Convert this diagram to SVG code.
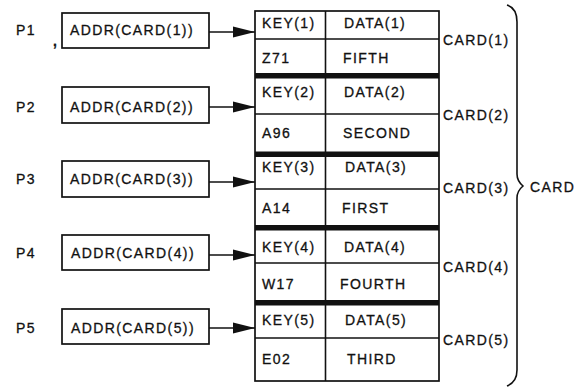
<svg xmlns="http://www.w3.org/2000/svg" width="585" height="387" viewBox="0 0 585 387">
<style>
text{font-family:"Liberation Sans",Arial,sans-serif;font-size:14px;letter-spacing:1.4px;fill:#111;stroke:#111;stroke-width:0.3}
.box{fill:#fff;stroke:#111;stroke-width:1.7}
.ln{stroke:#111;stroke-width:1.6;fill:none}
.bar{fill:#111}
.conn{stroke:#111;stroke-width:1.6;fill:none;marker-end:url(#ah)}
</style>
<defs>
<marker id="ah" markerUnits="userSpaceOnUse" markerWidth="23" markerHeight="12" refX="22" refY="6" orient="auto">
<path d="M0,0.5 L22,6 L0,11.5 Z" fill="#111"/>
</marker>
</defs>
<rect width="585" height="387" fill="#fff"/>

<g id="pointers">
<g id="p1"><text x="16" y="35">P1</text><text x="53" y="46" style="font-weight:bold">,</text><rect class="box" x="62" y="13" width="147" height="35"/><text x="70" y="35">ADDR(CARD(1))</text></g>
<g id="p2"><text x="16" y="112">P2</text><rect class="box" x="62" y="87" width="147" height="36"/><text x="70" y="112">ADDR(CARD(2))</text></g>
<g id="p3"><text x="16" y="184">P3</text><rect class="box" x="62" y="161" width="147" height="36"/><text x="70" y="184">ADDR(CARD(3))</text></g>
<g id="p4"><text x="16" y="258">P4</text><rect class="box" x="62" y="235" width="147" height="35"/><text x="71" y="258">ADDR(CARD(4))</text></g>
<g id="p5"><text x="16" y="333">P5</text><rect class="box" x="62" y="309" width="147" height="35"/><text x="71" y="333">ADDR(CARD(5))</text></g>
</g>

<g id="connectors">
<line class="conn" x1="209" y1="32" x2="255" y2="32"/>
<line class="conn" x1="209" y1="107" x2="255" y2="107"/>
<line class="conn" x1="209" y1="182" x2="255" y2="182"/>
<line class="conn" x1="209" y1="255" x2="255" y2="255"/>
<line class="conn" x1="209" y1="328" x2="255" y2="328"/>
</g>

<g id="table">
<rect class="box" x="255" y="11" width="184" height="370"/>
<line class="ln" x1="325.5" y1="11" x2="325.5" y2="381"/>
<line class="ln" x1="255" y1="39" x2="439" y2="39"/>
<line class="ln" x1="255" y1="114" x2="439" y2="114"/>
<line class="ln" x1="255" y1="189" x2="439" y2="189"/>
<line class="ln" x1="255" y1="263" x2="439" y2="263"/>
<line class="ln" x1="255" y1="338" x2="439" y2="338"/>
<rect class="bar" x="255" y="73" width="184" height="5.5"/>
<rect class="bar" x="255" y="151.5" width="184" height="5.5"/>
<rect class="bar" x="255" y="225" width="184" height="5.5"/>
<rect class="bar" x="255" y="300" width="184" height="5.5"/>
</g>

<g id="card1">
<text x="262" y="28">KEY(1)</text><text x="344" y="28">DATA(1)</text>
<text x="262" y="63">Z71</text><text x="343" y="63">FIFTH</text>
<text x="443" y="45">CARD(1)</text>
</g>
<g id="card2">
<text x="262" y="97">KEY(2)</text><text x="344" y="97">DATA(2)</text>
<text x="262" y="138">A96</text><text x="343" y="138">SECOND</text>
<text x="443" y="120">CARD(2)</text>
</g>
<g id="card3">
<text x="262" y="172">KEY(3)</text><text x="345" y="172">DATA(3)</text>
<text x="262" y="213">A14</text><text x="342" y="213">FIRST</text>
<text x="443" y="193">CARD(3)</text>
</g>
<g id="card4">
<text x="262" y="252">KEY(4)</text><text x="344" y="252">DATA(4)</text>
<text x="262" y="289">W17</text><text x="340" y="289">FOURTH</text>
<text x="443" y="272">CARD(4)</text>
</g>
<g id="card5">
<text x="262" y="325">KEY(5)</text><text x="345" y="325">DATA(5)</text>
<text x="262" y="364">E02</text><text x="347" y="364">THIRD</text>
<text x="443" y="345">CARD(5)</text>
</g>

<g id="card">
<path class="ln" d="M507,5 Q517,8 517,22 L517,174 Q517,181 523,186 Q517,191 517,198 L517,370 Q517,382 507,386"/>
<text x="530" y="192">CARD</text>
</g>
</svg>
